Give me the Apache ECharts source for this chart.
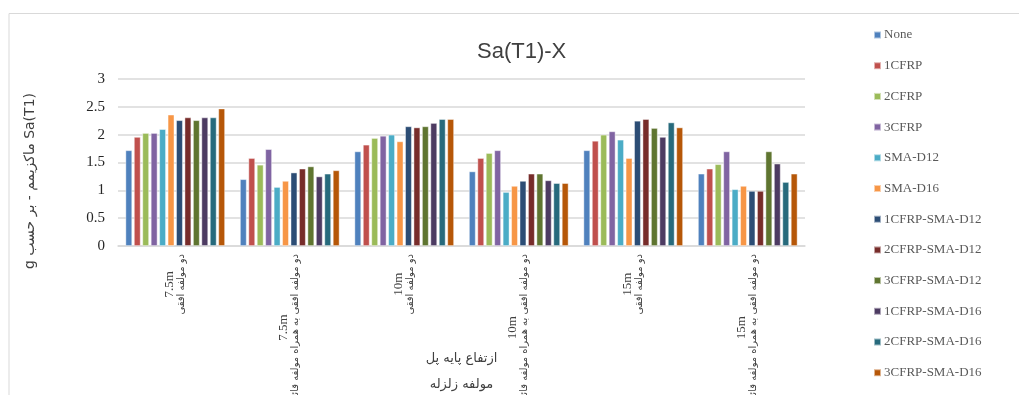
<!DOCTYPE html>
<html>
<head>
<meta charset="utf-8">
<script src="https://cdn.jsdelivr.net/npm/echarts@6/dist/echarts.min.js"></script>
<style>
  html, body { margin: 0; padding: 0; background: #ffffff; }
  #chart { width: 1019px; height: 395px; }
</style>
</head>
<body>
<div id="chart"></div>
<script>
// Pier heights and earthquake-component cases along the x axis
const pierHeights = ['7.5m', '7.5m', '10m', '10m', '15m', '15m'];
const components = [
  'دو مولفه افقی',
  'دو مولفه افقی به همراه مولفه قائم',
  'دو مولفه افقی',
  'دو مولفه افقی به همراه مولفه قائم',
  'دو مولفه افقی',
  'دو مولفه افقی به همراه مولفه قائم'
];

// Retrofit schemes (one bar series each)
const seriesNames = [
  'None', '1CFRP', '2CFRP', '3CFRP', 'SMA-D12', 'SMA-D16',
  '1CFRP-SMA-D12', '2CFRP-SMA-D12', '3CFRP-SMA-D12',
  '1CFRP-SMA-D16', '2CFRP-SMA-D16', '3CFRP-SMA-D16'
];
const seriesColors = [
  '#4F81BD', '#C0504D', '#9BBB59', '#8064A2', '#4BACC6', '#F79646',
  '#2C4D75', '#772C2A', '#5F7530', '#4D3B62', '#276A7C', '#B65708'
];

// Maximum Sa(T1) in g, one value per category
const none        = [1.72, 1.20, 1.70, 1.34, 1.72, 1.30];
const cfrp1       = [1.96, 1.58, 1.82, 1.58, 1.89, 1.39];
const cfrp2       = [2.03, 1.46, 1.94, 1.67, 2.00, 1.47];
const cfrp3       = [2.03, 1.74, 1.98, 1.72, 2.06, 1.70];
const smaD12      = [2.10, 1.06, 2.00, 0.97, 1.91, 1.02];
const smaD16      = [2.36, 1.17, 1.88, 1.08, 1.58, 1.08];
const cfrp1SmaD12 = [2.26, 1.32, 2.15, 1.17, 2.25, 0.99];
const cfrp2SmaD12 = [2.31, 1.39, 2.13, 1.30, 2.28, 0.99];
const cfrp3SmaD12 = [2.26, 1.43, 2.15, 1.30, 2.12, 1.70];
const cfrp1SmaD16 = [2.31, 1.25, 2.21, 1.18, 1.96, 1.48];
const cfrp2SmaD16 = [2.31, 1.30, 2.28, 1.13, 2.22, 1.15];
const cfrp3SmaD16 = [2.47, 1.36, 2.28, 1.13, 2.13, 1.30];

const seriesValues = [
  none, cfrp1, cfrp2, cfrp3, smaD12, smaD16,
  cfrp1SmaD12, cfrp2SmaD12, cfrp3SmaD12,
  cfrp1SmaD16, cfrp2SmaD16, cfrp3SmaD16
];

// Value axis range
const yMin = 0;
const yMax = 3;
const yStep = 0.5;

const titleText = 'Sa(T1)-X';
// Right-to-left embedding keeps the Persian/Latin mix in reading order
const yAxisTitle = '\u202BSa(T1) ماکزیمم - بر حسب g\u202C';
const xAxisTitle = 'ازتفاع پایه پل\nمولفه زلزله';

const categories = pierHeights.map((h, i) => h + '\n' + components[i]);

const chart = echarts.init(document.getElementById('chart'), null, { renderer: 'canvas' });

const gridColor = '#d9d9d9';

chart.setOption({
  backgroundColor: '#ffffff',
  animation: false,
  color: seriesColors,
  title: {
    text: titleText,
    left: 472,
    top: 36,
    textStyle: {
      fontFamily: 'Liberation Sans',
      fontSize: 22,
      fontWeight: 'normal',
      color: '#404040'
    }
  },
  legend: {
    orient: 'vertical',
    left: 868,
    top: 23.5,
    icon: 'rect',
    itemWidth: 7,
    itemHeight: 7,
    itemGap: 17.7,
    data: seriesNames,
    textStyle: {
      fontFamily: 'Liberation Serif',
      fontSize: 13,
      color: '#595959',
      padding: [0, 0, 0, -2]
    }
  },
  grid: {
    left: 118,
    right: 214,
    top: 79,
    bottom: 149,
    containLabel: false,
    outerBoundsMode: 'none'
  },
  xAxis: {
    type: 'category',
    data: categories,
    name: xAxisTitle,
    nameLocation: 'middle',
    nameGap: 100,
    nameMoveOverlap: false,
    nameTextStyle: {
      fontFamily: 'DejaVu Sans',
      fontSize: 13,
      color: '#404040',
      lineHeight: 26
    },
    axisLine: { lineStyle: { color: gridColor, width: 1.5 } },
    axisTick: { show: false },
    axisLabel: {
      interval: 0,
      rotate: 90,
      margin: 8,
      formatter: function (v) {
        const parts = v.split('\n');
        return '{h|' + parts[0] + '}\n{c|' + parts[1] + '}';
      },
      rich: {
        h: {
          fontFamily: 'Liberation Serif',
          fontSize: 13,
          color: '#404040',
          align: 'center',
          lineHeight: 12
        },
        c: {
          fontFamily: 'DejaVu Sans',
          fontSize: 10,
          color: '#404040',
          align: 'center',
          lineHeight: 12
        }
      }
    }
  },
  yAxis: {
    type: 'value',
    min: yMin,
    max: yMax,
    interval: yStep,
    axisLine: { show: false },
    axisTick: { show: false },
    axisLabel: {
      margin: 13,
      fontFamily: 'Liberation Serif',
      fontSize: 15,
      color: '#262626'
    },
    splitLine: { lineStyle: { color: gridColor, width: 1.5 } }
  },
  graphic: [
    {
      type: 'line',
      shape: { x1: 9, y1: 13.5, x2: 1019, y2: 13.5 },
      style: { stroke: gridColor, lineWidth: 1 }
    },
    {
      type: 'line',
      shape: { x1: 9, y1: 13.5, x2: 9, y2: 395 },
      style: { stroke: gridColor, lineWidth: 1 }
    },
    {
      type: 'text',
      x: 30,
      y: 181,
      rotation: Math.PI / 2,
      style: {
        text: yAxisTitle,
        fontFamily: 'DejaVu Sans',
        fontSize: 14,
        fill: '#404040',
        align: 'center',
        verticalAlign: 'middle'
      }
    }
  ],
  series: seriesNames.map((name, i) => ({
    name: name,
    type: 'bar',
    data: seriesValues[i],
    barGap: '25%',
    barCategoryGap: '13%',
    itemStyle: {
      color: seriesColors[i],
      borderColor: 'rgba(255,255,255,0.55)',
      borderWidth: 0.8
    }
  }))
});
</script>
</body>
</html>
